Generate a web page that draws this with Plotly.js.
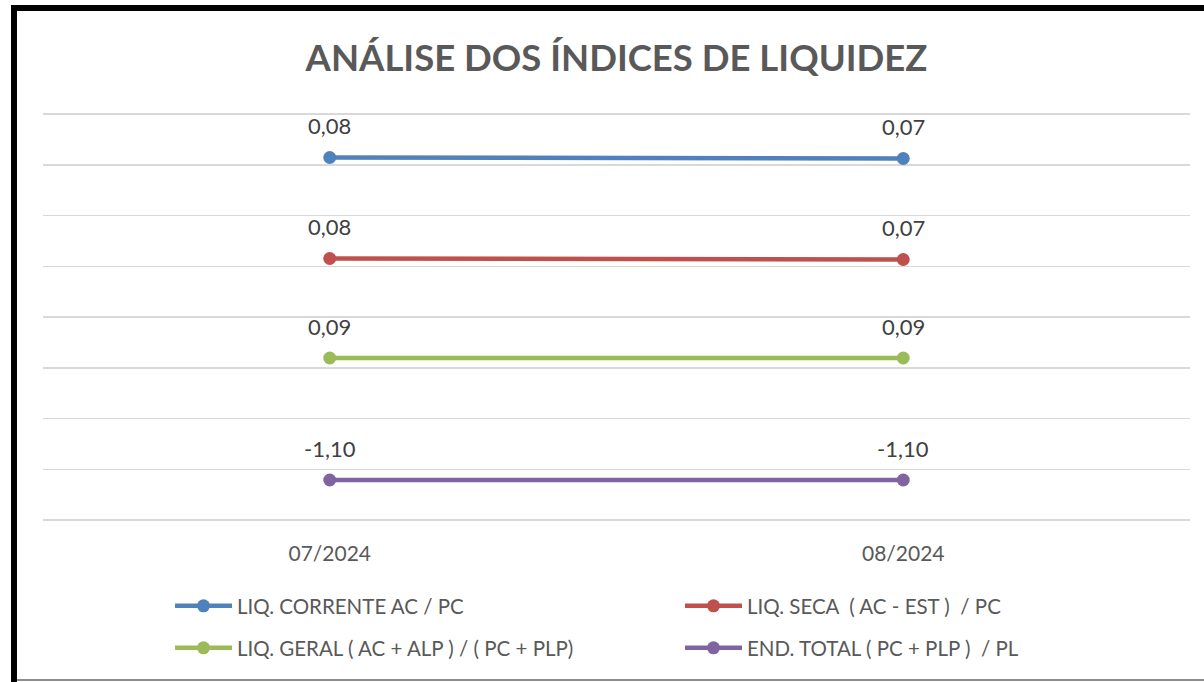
<!DOCTYPE html>
<html><head><meta charset="utf-8">
<script src="https://cdn.plot.ly/plotly-3.0.1.min.js"></script>
<style>
html,body{margin:0;padding:0;background:#fff;}
#wrap{position:relative;width:1204px;height:682px;overflow:hidden;}
#chart{width:1204px;height:682px;}
.frame{position:absolute;pointer-events:none;}
#frameTop{left:11px;top:5px;width:1193px;height:6px;background:#000;}
#frameLeft{left:11px;top:5px;width:6px;height:677px;background:#000;}
#frameBottom{left:17px;top:679px;width:1187px;height:2px;background:#8c8c8c;}
</style></head>
<body>
<div id="wrap"><div id="chart"></div>
<div id="frameTop" class="frame"></div><div id="frameLeft" class="frame"></div><div id="frameBottom" class="frame"></div>
</div>
<script>
// ---- data ----
const categories = ['07/2024', '08/2024'];
const seriesNames = [
  'LIQ. CORRENTE AC / PC',
  'LIQ. SECA  ( AC - EST )  / PC',
  'LIQ. GERAL ( AC + ALP ) / ( PC + PLP)',
  'END. TOTAL ( PC + PLP )  / PL'
];
const liqCorrente = [0.08, 0.07];
const liqSeca = [0.08, 0.07];
const liqGeral = [0.09, 0.09];
const endTotal = [-1.10, -1.10];

// ---- styling / layout ----
const seriesValues = [liqCorrente, liqSeca, liqGeral, endTotal];
const colors = ['#4f81bd', '#c0504d', '#9bbb59', '#8064a2'];
const FONT = 'Lato, "Open Sans", sans-serif';
const W = 1204, H = 682;
const gridTop = 114, gridBottom = 520, plotLeft = 43, plotRight = 1190;
const pad = 3;                       // plot area extends a little past the outer gridlines
const plotTop = gridTop - pad, plotBottom = gridBottom + pad;
const gridH = gridBottom - gridTop;
// vertical pixel row of each series line
const bandPx = [158, 259, 358, 480];
const span = 4.06;                   // value span between outer gridlines
const perPx = span / gridH;
const axisIds = ['y', 'y2', 'y3', 'y4'];
const axisKeys = ['yaxis', 'yaxis2', 'yaxis3', 'yaxis4'];
const legendIds = ['legend', 'legend2', 'legend3', 'legend4'];
const legendPos = [[170, 606], [680, 606], [170, 648], [680, 648]];

const fmt = v => v.toFixed(2).replace('.', ',');

const traces = [];
const annotations = [];
const layout = {
  width: W, height: H,
  margin: {l: plotLeft, r: W - plotRight, t: plotTop, b: H - plotBottom, pad: 0},
  paper_bgcolor: '#ffffff', plot_bgcolor: '#ffffff',
  showlegend: true,
  hovermode: false,
  font: {family: FONT, color: '#595959'},
  title: {
    text: 'ANÁLISE DOS ÍNDICES DE LIQUIDEZ',
    font: {family: FONT, size: 36.5, color: '#595959', weight: 'bold'},
    x: 0.5, xref: 'paper', xanchor: 'center',
    y: 1 - 58 / H, yref: 'container', yanchor: 'middle'
  },
  xaxis: {
    type: 'category', range: [-0.5, 1.5], showgrid: false, zeroline: false,
    showline: false, ticks: '', ticklabelstandoff: 16,
    tickfont: {family: FONT, size: 21, color: '#595959'}, fixedrange: true
  },
  annotations: annotations
};

legendIds.forEach((id, k) => {
  layout[id] = {
    orientation: 'h', x: legendPos[k][0] / W, xref: 'container', xanchor: 'left',
    y: 1 - legendPos[k][1] / H, yref: 'container', yanchor: 'middle',
    itemwidth: 57,
    font: {family: FONT, size: 20.5, color: '#595959'}, bgcolor: 'rgba(0,0,0,0)',
    itemclick: false, itemdoubleclick: false
  };
});

seriesValues.forEach((vals, i) => {
  const f = (gridBottom - bandPx[i]) / gridH;
  const mean = vals.reduce((a, b) => a + b, 0) / vals.length;
  const lo = mean - f * span;          // value at bottom gridline
  const hi = lo + span;                // value at top gridline
  const ax = {range: [lo - pad * perPx, hi + pad * perPx], fixedrange: true,
    zeroline: false, showline: false, showticklabels: false};
  if (i === 0) {
    Object.assign(ax, {showgrid: true, gridcolor: '#d9d9d9', gridwidth: 1.5,
      tickmode: 'linear', tick0: lo, dtick: span / 8, ticks: ''});
  } else {
    Object.assign(ax, {overlaying: 'y', visible: false, showgrid: false});
  }
  layout[axisKeys[i]] = ax;
  traces.push({
    type: 'scatter', mode: 'lines+markers',
    x: categories, y: vals, yaxis: axisIds[i], name: seriesNames[i],
    legend: legendIds[i],
    line: {color: colors[i], width: 4.5},
    marker: {color: colors[i], size: 13},
    cliponaxis: false
  });
  vals.forEach((v, j) => {
    annotations.push({
      x: categories[j], y: v, xref: 'x', yref: axisIds[i],
      text: fmt(v), showarrow: false, yshift: 32, xanchor: 'center', yanchor: 'middle',
      font: {family: FONT, size: 22, color: '#404040'}
    });
  });
});

Plotly.newPlot('chart', traces, layout, {displayModeBar: false, staticPlot: true});
</script>
</body></html>
